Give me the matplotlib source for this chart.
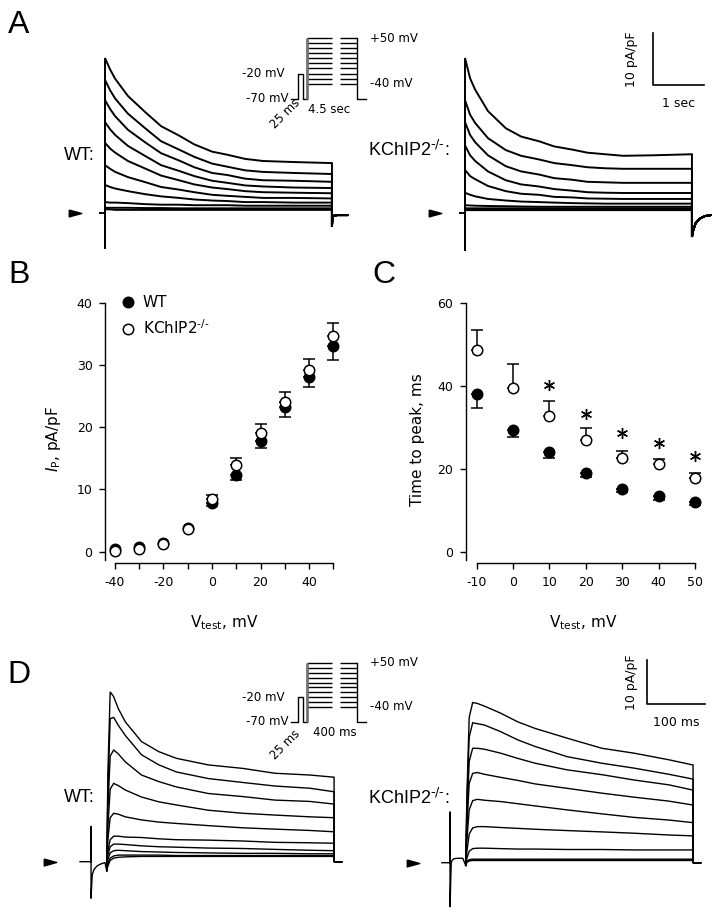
import numpy as np
import matplotlib
matplotlib.use("Agg")
import matplotlib.pyplot as plt
from matplotlib.lines import Line2D

plt.rcParams['font.family'] = ['DejaVu Sans']
plt.rcParams['mathtext.fontset'] = 'dejavusans'
plt.rcParams['axes.unicode_minus'] = False
ARIAL = ['Liberation Sans', 'DejaVu Sans']

W, H = 720, 916
fig = plt.figure(figsize=(7.2, 9.16), dpi=100)

# ---------------------------------------------------------------- data
# Panel A: 4.5 s test pulses, current density (pA/pF) vs time (s)
tA = [0, 0.1, 0.2, 0.45, 0.8, 1.1, 1.45, 1.75, 2.1, 2.4, 2.75, 3.1, 3.7, 4.45]
A_wt = [
    [29.8, 27.6, 25.8, 22.5, 19.3, 16.7, 14.9, 13.2, 11.8, 11.2, 10.4, 10.0, 9.8, 9.6],
    [25.6, 23.6, 22.0, 19.1, 16.2, 13.8, 12.2, 10.8, 9.5, 8.9, 8.2, 7.9, 7.7, 7.5],
    [21.7, 20.0, 18.6, 16.0, 13.5, 11.5, 10.1, 8.8, 7.7, 7.3, 6.6, 6.3, 6.2, 6.0],
    [17.5, 16.1, 15.0, 12.9, 10.9, 9.2, 8.1, 7.1, 6.2, 5.8, 5.3, 5.1, 4.9, 4.8],
    [13.5, 12.4, 11.6, 10.0, 8.5, 7.2, 6.3, 5.5, 4.9, 4.6, 4.2, 4.0, 3.9, 3.8],
    [9.2, 8.5, 7.9, 6.9, 5.9, 5.0, 4.5, 4.0, 3.5, 3.3, 3.1, 2.9, 2.9, 2.8],
    [5.4, 5.0, 4.7, 4.2, 3.6, 3.2, 2.9, 2.6, 2.4, 2.3, 2.1, 2.1, 2.0, 2.0],
    [2.1, 2.0, 2.0, 1.9, 1.7, 1.6, 1.6, 1.5, 1.5, 1.5, 1.4, 1.4, 1.4, 1.4],
    [1.0, 1.0, 1.0, 1.0, 0.95, 0.95, 0.9, 0.9, 0.9, 0.9, 0.9, 0.9, 0.9, 0.9],
    [0.7, 0.7, 0.6, 0.6, 0.6, 0.6, 0.6, 0.6, 0.6, 0.6, 0.6, 0.6, 0.6, 0.6],
]
A_ko = [
    [29.8, 25.9, 23.7, 19.6, 16.3, 14.7, 13.8, 12.8, 12.2, 11.6, 11.3, 11.0, 11.1, 11.3],
    [21.7, 18.9, 17.3, 14.4, 12.1, 11.0, 10.3, 9.6, 9.2, 8.8, 8.6, 8.5, 8.5, 8.5],
    [17.5, 15.0, 13.6, 11.1, 9.0, 8.0, 7.4, 6.7, 6.4, 6.0, 5.9, 5.8, 5.8, 5.8],
    [13.0, 11.1, 10.0, 8.0, 6.3, 5.5, 5.1, 4.6, 4.3, 4.0, 3.9, 3.85, 3.85, 3.85],
    [8.3, 7.1, 6.5, 5.2, 4.2, 3.7, 3.5, 3.1, 3.0, 2.8, 2.75, 2.7, 2.7, 2.7],
    [3.9, 3.5, 3.2, 2.7, 2.4, 2.2, 2.1, 2.0, 1.9, 1.85, 1.8, 1.8, 1.8, 1.8],
    [1.5, 1.45, 1.4, 1.35, 1.3, 1.25, 1.2, 1.2, 1.2, 1.2, 1.2, 1.2, 1.2, 1.2],
    [0.9, 0.9, 0.9, 0.9, 0.9, 0.9, 0.9, 0.9, 0.9, 0.9, 0.9, 0.9, 0.9, 0.9],
    [0.7, 0.7, 0.7, 0.7, 0.7, 0.7, 0.7, 0.7, 0.7, 0.7, 0.7, 0.7, 0.7, 0.7],
    [0.55, 0.55, 0.55, 0.55, 0.55, 0.55, 0.55, 0.55, 0.55, 0.55, 0.55, 0.55, 0.55, 0.55],
]
A_pre_t = [-0.1, 0, 0, 0]
A_pre_wt = [0, 0, -6.7, 0]
A_pre_ko = [0, 0, -7.1, 0]
A_tail_t_wt = [4.45, 4.46, 4.55, 4.75]
A_tail_wt = [-2.6, -0.6, -0.4, -0.4]
A_tail_t_ko = [4.45, 4.47, 4.52, 4.6, 4.7, 4.82]
A_tail_ko = [-4.6, -3.5, -2.0, -1.1, -0.6, -0.4]
holding_I = 0.0

# Panel D: 400 ms test pulses, current density (pA/pF) vs time (ms)
tD = [0, 2, 6, 12, 20, 32, 60, 90, 120, 175, 235, 290, 350, 392]
D_wt = [
    [-2, 20, 38.6, 37.5, 34.8, 31.8, 27.3, 25.0, 23.5, 22.0, 21.2, 20.1, 19.7, 19.2],
    [-2, 16, 32.5, 32.8, 31.0, 28.7, 24.3, 22.0, 20.4, 18.9, 18.0, 17.2, 16.7, 15.9],
    [-2, 12, 24.0, 25.4, 24.5, 22.7, 19.7, 18.2, 17.0, 15.5, 14.8, 14.0, 13.7, 13.1],
    [-2, 8, 16.5, 17.8, 17.3, 16.3, 14.7, 13.6, 12.9, 11.7, 11.0, 10.6, 10.2, 10.0],
    [-2, 5, 10.0, 11.0, 10.8, 10.2, 9.5, 9.0, 8.7, 8.2, 7.7, 7.4, 7.1, 6.8],
    [-2, 2.5, 5.0, 5.8, 5.8, 5.6, 5.5, 5.2, 5.0, 4.9, 4.7, 4.4, 4.3, 4.2],
    [-2, 1.5, 3.4, 4.0, 4.0, 3.9, 3.6, 3.4, 3.3, 3.1, 3.0, 2.8, 2.6, 2.5],
    [-2, 0.5, 2.0, 2.5, 2.6, 2.5, 2.3, 2.2, 2.1, 2.0, 1.9, 1.9, 1.8, 1.8],
    [-2, -0.5, 0.8, 1.3, 1.5, 1.5, 1.5, 1.5, 1.4, 1.4, 1.4, 1.4, 1.4, 1.4],
    [-2, -1, 0.3, 0.8, 1.0, 1.1, 1.2, 1.2, 1.2, 1.2, 1.2, 1.2, 1.2, 1.2],
]
D_ko = [
    [-0.6, 15, 33, 36.4, 36.2, 35.6, 34.0, 32.0, 30.5, 28.3, 26.0, 24.9, 23.4, 22.2],
    [-0.6, 13, 28.5, 31.8, 31.6, 31.3, 29.8, 27.9, 26.4, 24.1, 22.6, 21.5, 20.1, 19.0],
    [-0.6, 10, 23, 26.0, 26.0, 25.8, 24.9, 23.7, 22.6, 21.1, 20.0, 18.8, 17.7, 16.5],
    [-0.6, 8, 18, 20.3, 20.5, 20.1, 19.4, 18.7, 17.9, 16.9, 15.8, 14.9, 14.0, 13.1],
    [-0.6, 5, 12, 14.1, 14.4, 14.2, 13.9, 13.4, 12.9, 12.0, 11.1, 10.3, 9.7, 9.1],
    [-0.6, 2.5, 6.5, 7.9, 8.2, 8.2, 8.0, 7.8, 7.6, 7.3, 7.0, 6.7, 6.3, 6.1],
    [-0.6, 1.0, 2.6, 3.2, 3.3, 3.3, 3.2, 3.1, 3.1, 3.0, 3.0, 2.9, 2.9, 2.9],
    [-0.6, 0.3, 0.7, 0.8, 0.8, 0.8, 0.8, 0.8, 0.8, 0.8, 0.8, 0.8, 0.8, 0.8],
    [-0.6, 0.2, 0.5, 0.6, 0.6, 0.6, 0.6, 0.6, 0.6, 0.6, 0.6, 0.6, 0.6, 0.6],
    [-0.6, 0.1, 0.4, 0.5, 0.5, 0.5, 0.5, 0.5, 0.5, 0.5, 0.5, 0.5, 0.5, 0.5],
]
D_pre_t_wt = [-46, -27, -27, -27, -25, -22, -17, -10, -3, 0]
D_pre_wt = [0, 0, 8.0, -8.3, -3.0, -1.8, -1.0, -0.5, -0.2, -2.0]
D_pre_t_ko = [-41, -27, -27, -27, -25, -23, -20, -15, -5, 0]
D_pre_ko = [0, 0, 11.5, -10.0, 0.0, 0.6, 0.9, 1.0, 1.0, -0.6]
D_tail_t = [392, 405]
D_tail_I = [0, 0]

# Voltage protocol (mV)
hold_mV = -70
pre_mV = -20
step_mV = [-40, -30, -20, -10, 0, 10, 20, 30, 40, 50]

# Panel B: peak current density
V_B = [-40, -30, -20, -10, 0, 10, 20, 30, 40, 50]
IP_wt = [0.4, 0.7, 1.4, 3.8, 7.8, 12.3, 17.8, 23.2, 28.1, 33.0]
IP_wt_sem = [0, 0, 0, 0, 0.4, 0.8, 1.1, 1.6, 1.6, 2.2]
IP_ko = [0.1, 0.4, 1.2, 3.7, 8.4, 13.9, 19.1, 24.1, 29.2, 34.6]
IP_ko_sem = [0, 0, 0, 0, 0.7, 1.1, 1.4, 1.6, 1.7, 2.2]

# Panel C: time to peak
V_C = [-10, 0, 10, 20, 30, 40, 50]
ttp_wt = [38.2, 29.5, 24.1, 19.1, 15.1, 13.4, 11.9]
ttp_wt_sem = [3.4, 1.9, 1.4, 1.0, 0.7, 0.8, 0.7]
ttp_ko = [48.8, 39.6, 32.8, 27.1, 22.7, 21.1, 17.7]
ttp_ko_sem = [4.8, 5.8, 3.5, 2.9, 1.6, 1.2, 1.2]
sig_V = [10, 20, 30, 40, 50]
sig_y = [40.2, 33.3, 28.7, 26.3, 23.1]

KO_LABEL = r'KChIP2$^{\text{-/-}}$'

# ---------------------------------------------------------------- helpers
def px_axes(box, origin, scale):
    """box=(left,right,top,bottom) px; origin = px of data (0,0); scale = px per unit."""
    l, r, t, b = box
    ox, oy = origin
    sx, sy = scale
    ax = fig.add_axes([l / W, 1 - b / H, (r - l) / W, (b - t) / H])
    ax.set_xlim((l - ox) / sx, (r - ox) / sx)
    ax.set_ylim((oy - b) / sy, (oy - t) / sy)
    ax.patch.set_alpha(0)
    return ax


def ftext(x, y, s, **kw):
    return fig.text(x / W, 1 - y / H, s, **kw)


ARROW = [(-1, 0.55), (1, 0), (-1, -0.55), (-1, 0.55)]


def draw_traces(ax, t, traces, pre_t, pre_I, tail_t, tail_I, lw, lead=True):
    ax.plot(pre_t, pre_I, color='k', lw=lw, clip_on=False)
    for tr in traces:
        xs = ([t[0]] if lead else []) + list(t) + list(tail_t)
        ys = ([holding_I] if lead else []) + list(tr) + list(tail_I)
        ax.plot(xs, ys, color='k', lw=lw, clip_on=False, solid_joinstyle='miter')
    ax.axis('off')


def protocol(ax, right_label_x, dur_text, dur_x, dur_y, ms_y):
    xs = dict(start=0, pre_on=7, pre_off=12, step_on=15.7, gap_l=40.7, gap_r=49, step_off=66.3, end=75)
    ax.plot([xs['start'], xs['pre_on'], xs['pre_on'], xs['pre_off'], xs['pre_off'], xs['step_on']],
            [hold_mV, hold_mV, pre_mV, pre_mV, hold_mV, hold_mV], color='k', lw=1)
    ax.hlines(step_mV, xs['step_on'], xs['gap_l'], color='k', lw=1)
    ax.hlines(step_mV, xs['gap_r'], xs['step_off'], color='k', lw=1)
    ax.vlines(xs['step_on'], hold_mV, max(step_mV), color='0.45', lw=2)
    ax.plot([xs['step_off'], xs['step_off'], xs['end']], [max(step_mV), hold_mV, hold_mV], color='k', lw=1)
    fs = 8.5
    ax.text(-6, pre_mV, '-20 mV', ha='right', va='center', fontsize=fs)
    ax.text(-3, hold_mV, '-70 mV', ha='right', va='center', fontsize=fs)
    ax.text(right_label_x, max(step_mV), '+50 mV', ha='left', va='center', fontsize=fs)
    ax.text(right_label_x, min(step_mV), '-40 mV', ha='left', va='center', fontsize=fs)
    ax.text(dur_x, dur_y, dur_text, ha='left', va='center', fontsize=fs)
    ax.text(-6, ms_y, '25 ms', ha='center', va='center', rotation=45, fontsize=fs)
    ax.axis('off')


# ---------------------------------------------------------------- panel A
axA1 = px_axes((40, 360, 20, 260), (105, 213), (51, 5.2))
draw_traces(axA1, tA, A_wt, A_pre_t, A_pre_wt, A_tail_t_wt, A_tail_wt, 1.4)
axA1.plot([-0.59], [holding_I], marker=ARROW, ms=9, color='k', ls='none', clip_on=False)

axA2 = px_axes((400, 720, 20, 260), (465, 213), (51, 5.2))
draw_traces(axA2, tA, A_ko, A_pre_t, A_pre_ko, A_tail_t_ko, A_tail_ko, 1.4)
axA2.plot([-0.59], [holding_I], marker=ARROW, ms=9, color='k', ls='none', clip_on=False)
# scale bar: 1 s, 10 pA/pF
axA2.plot([3.686, 3.686, 4.686], [34.6, 24.6, 24.6], color='k', lw=1.2, clip_on=False)
axA2.text(3.27, 29.6, '10 pA/pF', rotation=90, ha='center', va='center', fontsize=9)
axA2.text(4.19, 21.0, '1 sec', ha='center', va='center', fontsize=9)

axPA = px_axes((230, 440, 20, 130), (291, 63.4), (1, 0.508))
protocol(axPA, 79, '4.5 sec', 17, -91.7, -99.6)

ftext(95, 155, 'WT:', ha='right', va='center', fontsize=13, family=ARIAL)
ftext(368, 150, KO_LABEL + ':', ha='left', va='center', fontsize=13, family=ARIAL)

# ---------------------------------------------------------------- panel D
axD1 = px_axes((40, 360, 640, 916), (106.7, 861.7), (0.58, 4.4))
draw_traces(axD1, tD, D_wt, D_pre_t_wt, D_pre_wt, D_tail_t, D_tail_I, 1.0, lead=False)
axD1.plot([-97.8], [holding_I], marker=ARROW, ms=9, color='k', ls='none', clip_on=False)

axD2 = px_axes((400, 720, 640, 916), (465.7, 862.7), (0.58, 4.4))
draw_traces(axD2, tD, D_ko, D_pre_t_ko, D_pre_ko, D_tail_t, D_tail_I, 1.0, lead=False)
axD2.plot([-90.9], [holding_I], marker=ARROW, ms=9, color='k', ls='none', clip_on=False)
axD2.plot([312.6, 312.6, 412.6], [46.07, 36.07, 36.07], color='k', lw=1.2, clip_on=False)
axD2.text(286.7, 41.0, '10 pA/pF', rotation=90, ha='center', va='center', fontsize=9)
axD2.text(362.6, 31.75, '100 ms', ha='center', va='center', fontsize=9)

axPD = px_axes((230, 440, 640, 760), (291, 687.4), (1, 0.49))
protocol(axPD, 79, '400 ms', 22, -93, -117.6)

ftext(95, 798, 'WT:', ha='right', va='center', fontsize=13, family=ARIAL)
ftext(368, 798, KO_LABEL + ':', ha='left', va='center', fontsize=13, family=ARIAL)


# ---------------------------------------------------------------- panels B, C
def style_xy(ax, ybounds, xbounds):
    for s in ('top', 'right'):
        ax.spines[s].set_visible(False)
    ax.spines['left'].set_bounds(*ybounds)
    ax.spines['bottom'].set_bounds(*xbounds)
    for s in ('left', 'bottom'):
        ax.spines[s].set_linewidth(1.0)
    ax.tick_params(direction='out', length=4, width=1, labelsize=9, pad=5)


def scatter_err(ax, x, y, sem, down, filled, z):
    x = np.asarray(x, float)
    y = np.asarray(y, float)
    sem = np.asarray(sem, float)
    m = sem > 0
    yerr = [sem[m], np.zeros(m.sum())] if down else [np.zeros(m.sum()), sem[m]]
    ax.errorbar(x[m], y[m], yerr=yerr, fmt='none', ecolor='k', elinewidth=1.1,
                capsize=4, capthick=1.1, zorder=z)
    ax.plot(x, y, ls='none', marker='o', ms=7.5, mec='k', mew=1.1,
            mfc='k' if filled else 'w', zorder=z + 1)


axB = px_axes((105, 340, 300, 563), (212.0, 551.7), (2.426, 6.225))
style_xy(axB, (-1.3, 40), (-40, 50))
axB.set_yticks([0, 10, 20, 30, 40])
axB.set_xticks(V_B)
axB.set_xticklabels([str(v) if v % 20 == 0 else '' for v in V_B])
scatter_err(axB, V_B, IP_wt, IP_wt_sem, True, True, 2)
scatter_err(axB, V_B, IP_ko, IP_ko_sem, False, False, 4)
axB.set_ylabel(r'$I_{\rm P}$, pA/pF', fontsize=11)
axB.yaxis.set_label_coords(-0.179, 0.47)
axB.set_xlabel(r'V$_{\rm test}$, mV', fontsize=11)
axB.xaxis.set_label_coords(0.506, -0.19)
h1 = Line2D([], [], ls='none', marker='o', ms=7.5, mfc='k', mec='k', mew=1.1)
h2 = Line2D([], [], ls='none', marker='o', ms=7.5, mfc='w', mec='k', mew=1.1)
axB.legend([h1, h2], ['WT', KO_LABEL], loc='upper left',
           bbox_to_anchor=(120 / W, 1 - 295 / H), bbox_transform=fig.transFigure,
           frameon=False, fontsize=11, handlelength=1.0, handletextpad=0.5,
           labelspacing=0.55, borderpad=0, borderaxespad=0)

axC = px_axes((466, 702, 300, 563), (513.1, 551.7), (3.638, 4.14))
style_xy(axC, (-2, 60), (-10, 50))
axC.set_yticks([0, 20, 40, 60])
axC.set_xticks(V_C)
scatter_err(axC, V_C, ttp_wt, ttp_wt_sem, True, True, 2)
scatter_err(axC, V_C, ttp_ko, ttp_ko_sem, False, False, 4)
axC.plot(sig_V, sig_y, ls='none', marker=(6, 2, 0), ms=8, mew=1.0, color='k')
axC.set_ylabel('Time to peak, ms', fontsize=11)
axC.yaxis.set_label_coords(-0.174, 0.47)
axC.set_xlabel(r'V$_{\rm test}$, mV', fontsize=11)
axC.xaxis.set_label_coords(0.496, -0.19)

# ---------------------------------------------------------------- panel letters
for (x, y, s) in [(8, 33, 'A'), (8, 283, 'B'), (372, 283, 'C'), (7, 683, 'D')]:
    ftext(x, y, s, ha='left', va='baseline', fontsize=23, family=ARIAL)

fig.savefig('out.png', dpi=100)
